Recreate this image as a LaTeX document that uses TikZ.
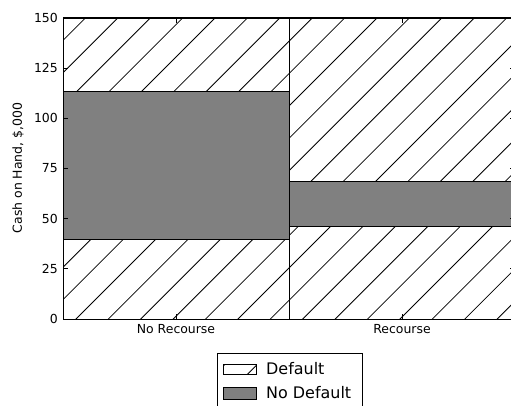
\documentclass[tikz,border=0pt]{standalone}
\usepackage{fontspec}
\setmainfont{DejaVu Sans}
% hatched box: x1, y1, x2, y2 (lines follow one global pattern)
\newcommand{\hatchbox}[4]{%
	\begin{scope}
		\clip (#1,#2) rectangle (#3,#4);
		\foreach \k in {-11,...,15}
			\draw [hatchline] ({76+32.4*\k-120},-34) -- ++(460,460);
	\end{scope}
	\draw [baredge] (#1,#2) rectangle (#3,#4);}
\begin{document}
\begin{tikzpicture}[x=1bp,y=1bp,
		hatchline/.style={line width=0.8bp},
		baredge/.style={line width=0.9bp},
		graybox/.style={baredge,fill=gray},
		ticklabel/.style={font=\fontsize{12.5}{14}\selectfont,inner sep=0pt},
		legendlabel/.style={font=\fontsize{16}{18}\selectfont,anchor=west,inner sep=0pt}]
	\useasboundingbox (0,0) rectangle (511,405);
	\clip (0,0) rectangle (511,405);
	% axes corners: bottom y=86 (0), top y=387 (150), 2.007bp per unit
	\coordinate (O) at (63,86);
	\coordinate (M) at (289,86);
	\coordinate (R) at (515,86);
	% No Recourse bar
	\hatchbox{63}{86}{289}{165.7}
	\draw [graybox] (63,165.7) rectangle (289,314);
	\hatchbox{63}{314}{289}{387}
	% Recourse bar
	\hatchbox{289}{86}{515}{178.9}
	\draw [graybox] (289,178.9) rectangle (515,223.3);
	\hatchbox{289}{223.3}{515}{387}
	% frame and ticks
	\draw [line width=1bp] (O) rectangle (515,387);
	\foreach \v [count=\i] in {0,25,...,150} {
		\draw [line width=0.8bp] (63,{86+2.007*\v}) -- ++(5,0);
		\draw [line width=0.8bp] (515,{86+2.007*\v}) -- ++(-5,0);
		\node [ticklabel,anchor=east] (y\i) at (58,{86+2.007*\v}) {\v};
	}
	\foreach \xc in {176,402} {
		\draw [line width=0.8bp] (\xc,86) -- ++(0,5);
		\draw [line width=0.8bp] (\xc,387) -- ++(0,-5);
	}
	\node [ticklabel,anchor=north] (norec) at (176,81) {No Recourse};
	\node [ticklabel,anchor=north] (rec) at (402,81) {Recourse};
	\node [ticklabel,rotate=90] (ylab) at (18,237) {Cash on Hand, \$,000};
	% legend
	\draw [line width=1bp,fill=white] (217,-5) rectangle (362,52);
	\hatchbox{223}{31}{256}{41}
	\draw [graybox] (223,6) rectangle (256,18);
	\node [legendlabel] (ldef) at (266,36) {Default};
	\node [legendlabel] (lnodef) at (266,12) {No Default};
\end{tikzpicture}
\end{document}
